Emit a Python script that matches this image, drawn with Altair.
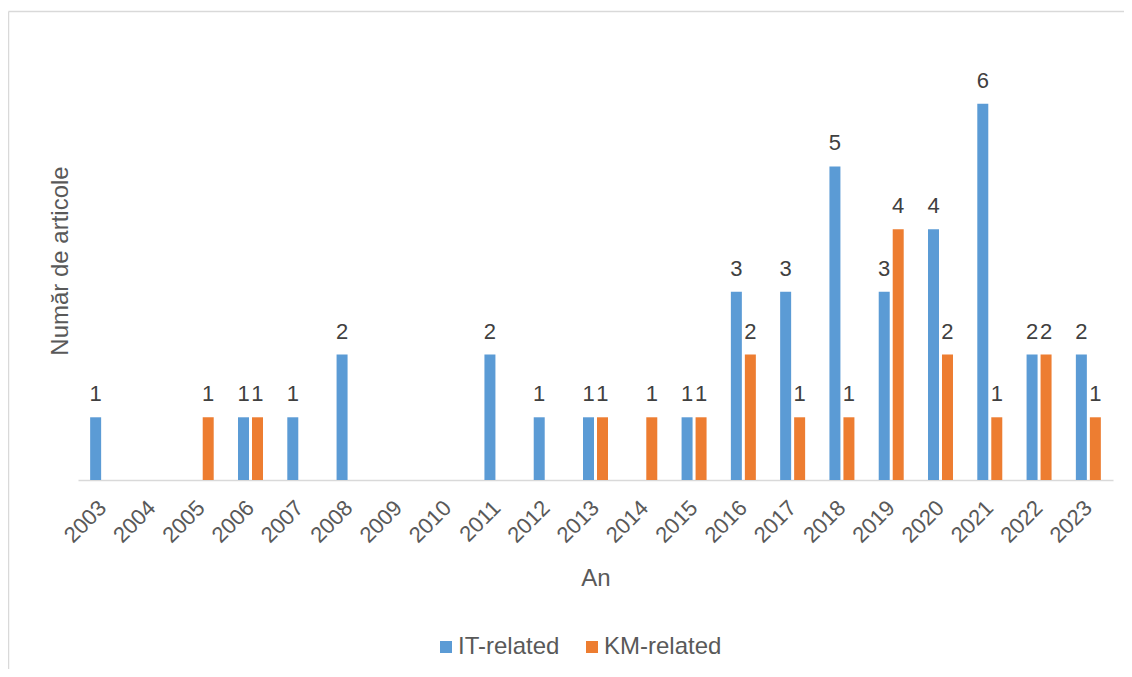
import altair as alt
import pandas as pd

years = [str(y) for y in range(2003, 2024)]
it_related = [1, 0, 0, 1, 1, 2, 0, 0, 2, 1, 1, 0, 1, 3, 3, 5, 3, 4, 6, 2, 2]
km_related = [0, 0, 1, 1, 0, 0, 0, 0, 0, 0, 1, 1, 1, 2, 1, 1, 4, 2, 1, 2, 1]
series = ["IT-related", "KM-related"]
colors = ["#5B9BD5", "#ED7D31"]

rows = []
for i, y in enumerate(years):
    rows.append({"An": y, "Serie": series[0], "Valoare": it_related[i]})
    rows.append({"An": y, "Serie": series[1], "Valoare": km_related[i]})
df = pd.DataFrame(rows)

FONT = "Liberation Sans"
W, H = 1035, 439

x_enc = alt.X(
    "An:N", sort=years,
    scale=alt.Scale(domain=years, paddingInner=0.493, paddingOuter=0.2465),
    axis=alt.Axis(
        title="An", labelAngle=-45, labelAlign="right", labelBaseline="middle",
        labelPadding=24, ticks=False, domainColor="#d9d9d9", domainWidth=1.5,
        labelFontSize=22, labelColor="#595959", titleFontSize=24, titleColor="#595959",
        titleFontWeight="normal", titleY=105, titleBaseline="alphabetic",
    ),
)
xoff_enc = alt.XOffset("Serie:N", sort=series,
                       scale=alt.Scale(domain=series, paddingInner=0.2143, paddingOuter=0))
y_enc = alt.Y(
    "Valoare:Q", scale=alt.Scale(domain=[0, 7], nice=False),
    axis=alt.Axis(
        title="Număr de articole", labels=False, ticks=False, domain=False, grid=False,
        titleFontSize=24, titleColor="#595959", titleFontWeight="normal",
        titleX=-11, titleY=219.5, titleBaseline="alphabetic", titleAngle=270,
    ),
)

base = alt.Chart(df).transform_filter("datum.Valoare > 0")

bars = base.mark_bar().encode(
    x=x_enc, xOffset=xoff_enc, y=y_enc,
    color=alt.Color(
        "Serie:N", sort=series, scale=alt.Scale(domain=series, range=colors),
        legend=alt.Legend(
            title=None, orient="none", legendX=356, legendY=594, direction="horizontal",
            symbolType="square", symbolSize=144, symbolStrokeWidth=0,
            labelFontSize=24, labelColor="#595959", labelFont=FONT,
            columnPadding=20, labelOffset=0, padding=0,
        ),
    ),
)

labels = base.mark_text(
    dy=-16, baseline="alphabetic", fontSize=22, color="#404040", font=FONT
).encode(x=x_enc, xOffset=xoff_enc, y=y_enc, text="Valoare:Q")

frame_data = pd.DataFrame({"k": [0]})
frame_top = alt.Chart(frame_data).mark_rule(color="#d9d9d9", strokeWidth=1.5).encode(
    x=alt.value(-69.5), x2=alt.value(1046), y=alt.value(-29.5)
)
frame_left = alt.Chart(frame_data).mark_rule(color="#d9d9d9", strokeWidth=1.5).encode(
    x=alt.value(-69.5), y=alt.value(-29.5), y2=alt.value(628)
)

chart = alt.layer(frame_top, frame_left, bars, labels).properties(
    width=W, height=H,
    autosize=alt.AutoSizeParams(type="none"),
    padding={"left": 70, "top": 33, "right": 11, "bottom": 189},
).configure_view(stroke=None).configure_axis(
    labelFont=FONT, titleFont=FONT
).configure_text(font=FONT)

chart.save("out.html", embed_options={"renderer": "svg", "actions": False})
